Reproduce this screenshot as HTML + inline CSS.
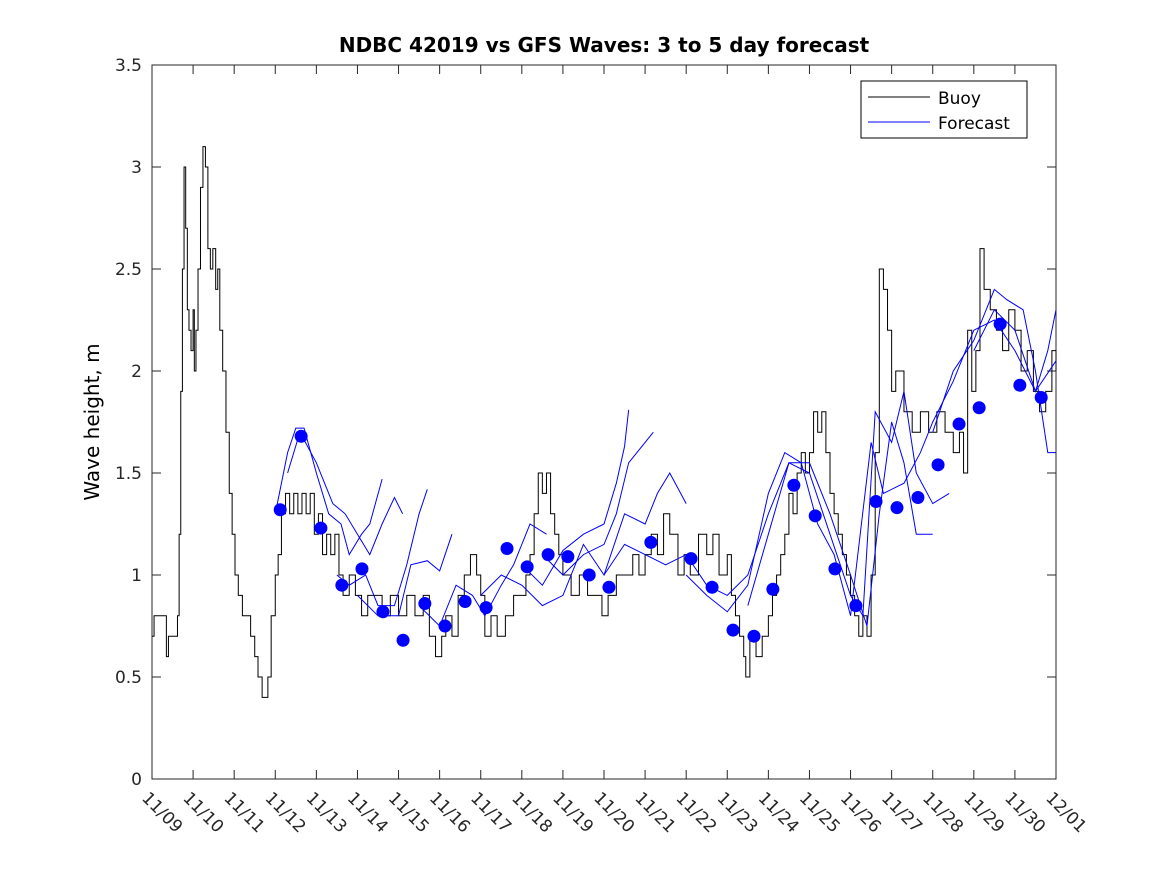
<!DOCTYPE html>
<html><head><meta charset="utf-8"><style>body{margin:0;background:#fff}svg{display:block;font-family:"DejaVu Sans","Liberation Sans",sans-serif}</style></head>
<body>
<svg id="chart" width="1167" height="875" viewBox="0 0 1167 875">
<rect width="1167" height="875" fill="#fff"/>
<text x="604" y="52" text-anchor="middle" font-size="20" font-weight="bold">NDBC 42019 vs GFS Waves: 3 to 5 day forecast</text>
<text transform="translate(99,422) rotate(-90)" text-anchor="middle" font-size="20">Wave height, m</text>
<g id="plot"></g>
<g>
<rect x="861" y="81" width="166" height="57" fill="#fff" stroke="#000" stroke-width="1"/>
<line x1="868" y1="97" x2="930" y2="97" stroke="#000"/>
<text x="938" y="104" font-size="17">Buoy</text>
<line x1="868" y1="122" x2="930" y2="122" stroke="#0000ff"/>
<text x="938" y="129" font-size="17">Forecast</text>
</g>
</svg>
<script>
const xTickLabels=["11/09","11/10","11/11","11/12","11/13","11/14","11/15","11/16","11/17","11/18","11/19","11/20","11/21","11/22","11/23","11/24","11/25","11/26","11/27","11/28","11/29","11/30","12/01"];
const yTicks=[0,0.5,1,1.5,2,2.5,3,3.5];
const buoySeries=[
[0,0.7],[0.05,0.8],[0.3,0.8],[0.35,0.6],[0.4,0.7],[0.6,0.7],[0.62,0.8],[0.66,1.2],[0.7,1.9],[0.74,2.5],[0.78,3.0],[0.82,2.7],[0.86,2.3],[0.9,2.2],[0.95,2.1],[1.0,2.3],[1.03,2.0],[1.07,2.2],[1.12,2.5],[1.18,2.9],[1.24,3.1],[1.3,3.0],[1.36,2.6],[1.42,2.5],[1.48,2.6],[1.55,2.4],[1.6,2.5],[1.65,2.2],[1.72,2.0],[1.8,1.7],[1.88,1.4],[1.95,1.2],[2.02,1.0],[2.1,0.9],[2.2,0.8],[2.4,0.7],[2.5,0.6],[2.58,0.5],[2.68,0.4],[2.82,0.5],[2.9,0.8],[3.0,1.0],[3.07,1.1],[3.15,1.3],[3.25,1.4],[3.35,1.3],[3.45,1.4],[3.55,1.3],[3.65,1.4],[3.75,1.3],[3.85,1.4],[3.95,1.2],[4.05,1.3],[4.15,1.1],[4.25,1.2],[4.35,1.1],[4.45,1.2],[4.55,1.0],[4.65,0.9],[4.8,1.0],[4.95,0.9],[5.1,0.8],[5.25,0.9],[5.4,0.9],[5.6,0.8],[5.8,0.9],[6.0,0.8],[6.2,0.9],[6.4,0.8],[6.6,0.9],[6.75,0.7],[6.9,0.6],[7.05,0.7],[7.15,0.8],[7.3,0.7],[7.45,0.9],[7.6,1.0],[7.75,1.1],[7.9,1.0],[8.0,0.9],[8.1,0.7],[8.25,0.8],[8.4,0.7],[8.6,0.8],[8.8,0.9],[9.0,0.9],[9.1,1.0],[9.2,1.1],[9.3,1.3],[9.4,1.5],[9.5,1.4],[9.6,1.5],[9.7,1.3],[9.8,1.2],[9.9,1.1],[10.0,1.0],[10.2,0.9],[10.4,1.0],[10.6,0.9],[10.8,0.9],[10.95,0.8],[11.1,0.9],[11.3,1.0],[11.5,1.0],[11.7,1.1],[11.85,1.0],[12.0,1.1],[12.15,1.2],[12.3,1.1],[12.45,1.3],[12.6,1.2],[12.8,1.0],[12.95,1.1],[13.1,1.0],[13.3,1.2],[13.5,1.1],[13.65,1.2],[13.8,1.0],[14.0,1.1],[14.1,0.9],[14.2,0.8],[14.3,0.7],[14.4,0.6],[14.45,0.5],[14.55,0.7],[14.7,0.6],[14.85,0.7],[15.0,0.8],[15.1,0.9],[15.2,1.0],[15.3,1.1],[15.4,1.2],[15.5,1.4],[15.6,1.3],[15.7,1.5],[15.8,1.6],[15.9,1.5],[16.0,1.6],[16.1,1.8],[16.2,1.7],[16.3,1.8],[16.4,1.6],[16.5,1.4],[16.6,1.3],[16.7,1.2],[16.8,1.1],[16.9,1.0],[17.0,0.9],[17.1,0.8],[17.2,0.7],[17.3,0.8],[17.4,0.7],[17.5,1.0],[17.6,1.6],[17.7,2.5],[17.8,2.4],[17.9,2.2],[18.0,1.9],[18.1,2.0],[18.3,1.8],[18.5,1.7],[18.7,1.8],[18.9,1.7],[19.1,1.8],[19.3,1.7],[19.5,1.6],[19.65,1.7],[19.75,1.5],[19.85,2.2],[19.95,1.9],[20.05,2.1],[20.15,2.6],[20.25,2.4],[20.4,2.3],[20.55,2.2],[20.7,2.1],[20.85,2.3],[21.0,2.2],[21.15,2.0],[21.3,2.1],[21.45,1.9],[21.6,1.8],[21.75,1.9],[21.9,2.1],[22.0,2.0]];
const buoyDays=buoySeries.map(p=>p[0]);
const buoyVals=buoySeries.map(p=>p[1]);
const dotDays=[3.12,3.63,4.11,4.62,5.11,5.62,6.11,6.64,7.13,7.62,8.13,8.64,9.13,9.64,10.12,10.64,11.12,12.14,13.12,13.63,14.14,14.65,15.11,15.62,16.14,16.62,17.13,17.62,18.13,18.64,19.13,19.64,20.13,20.64,21.12,21.64];
const dotVals=[1.32,1.68,1.23,0.95,1.03,0.82,0.68,0.86,0.75,0.87,0.84,1.13,1.04,1.10,1.09,1.00,0.94,1.16,1.08,0.94,0.73,0.70,0.93,1.44,1.29,1.03,0.85,1.36,1.33,1.38,1.54,1.74,1.82,2.23,1.93,1.87];
const fc1Days=[3.0,3.3,3.5,3.7,4.0,4.3,4.6,4.8,5.1,5.3,5.6];
const fc1Vals=[1.3,1.6,1.72,1.72,1.5,1.3,1.25,1.1,1.2,1.25,1.47];
const fc2Days=[3.3,3.6,4.0,4.4,4.7,5.0,5.3,5.6,5.9,6.1];
const fc2Vals=[1.5,1.7,1.55,1.35,1.3,1.2,1.1,1.25,1.38,1.3];
const fc3Days=[4.5,4.8,5.2,5.5,5.9,6.2,6.5,6.7];
const fc3Vals=[1.0,0.95,1.0,0.85,0.85,1.05,1.3,1.42];
const fc4Days=[5.0,5.5,6.0,6.3,6.7,7.0,7.3];
const fc4Vals=[0.9,0.8,0.8,1.05,1.07,1.02,1.2];
const fc5Days=[6.5,7.0,7.4,7.8,8.1,8.5,8.8,9.2,9.6];
const fc5Vals=[0.85,0.75,0.95,0.9,0.8,0.95,1.05,1.25,1.2];
const fc6Days=[9.0,9.5,10.0,10.5,11.0,11.3,11.5,11.6];
const fc6Vals=[1.05,0.95,1.12,1.2,1.25,1.45,1.63,1.81];
const fc7Days=[9.5,10.0,10.5,11.0,11.3,11.6,12.0,12.2];
const fc7Vals=[1.1,1.0,1.1,1.15,1.3,1.55,1.65,1.7];
const fc8Days=[8.0,8.5,9.0,9.5,10.0,10.5,11.0,11.5,12.0,12.3,12.6,13.0];
const fc8Vals=[0.9,1.0,0.95,0.85,0.9,1.15,1.0,1.3,1.25,1.4,1.5,1.35];
const fc9Days=[11.0,11.5,12.0,12.5,13.0,13.5,14.0,14.5,15.0,15.5,16.0,16.5,17.0,17.4,17.7,18.0,18.3,18.6,19.0];
const fc9Vals=[1.0,1.15,1.1,1.05,1.1,0.95,0.9,1.0,1.3,1.55,1.55,1.3,1.0,0.75,1.3,1.75,1.55,1.2,1.2];
const fc10Days=[13.0,13.5,14.0,14.5,15.0,15.4,15.8,16.2,16.6,17.0,17.5,17.8,18.3,18.7,19.0,19.5,20.0,20.5,21.0,21.5,22.0];
const fc10Vals=[1.0,0.9,0.82,0.95,1.4,1.6,1.55,1.25,1.1,0.8,1.65,1.4,1.45,1.6,1.75,1.95,2.2,2.25,2.1,1.9,2.05];
const fc11Days=[14.5,15.0,15.5,16.0,16.5,17.0,17.3,17.6,18.0,18.3,18.6,19.0,19.4];
const fc11Vals=[0.85,1.2,1.55,1.5,1.2,0.9,0.8,1.8,1.65,1.9,1.5,1.35,1.4];
const fc12Days=[19.0,19.5,20.0,20.5,20.8,21.2,21.5,21.8,22.0];
const fc12Vals=[1.7,2.0,2.15,2.4,2.35,2.3,2.0,1.6,1.6];
const fc13Days=[20.0,20.5,21.0,21.5,21.8,22.0];
const fc13Vals=[2.1,2.3,2.2,1.9,2.1,2.3];

const X0=152,X1=1056,Y0=779,Y1=65;
const xs=d=>X0+(X1-X0)*d/22;
const ys=v=>Y0-(Y0-Y1)*v/3.5;
const NS="http://www.w3.org/2000/svg";
const plot=document.getElementById('plot');
function mk(t,a,p){const e=document.createElementNS(NS,t);for(const k in a)e.setAttribute(k,a[k]);(p||plot).appendChild(e);return e;}
const frame=mk('rect',{x:X0,y:Y1,width:X1-X0,height:Y0-Y1,fill:'none',stroke:'#262626','stroke-width':1});


xTickLabels.forEach((l,i)=>{const x=xs(i);
 mk('line',{x1:x,y1:Y0,x2:x,y2:Y0-9,stroke:'#262626'});
 mk('line',{x1:x,y1:Y1,x2:x,y2:Y1+9,stroke:'#262626'});
 const t=mk('text',{x:0,y:0,'font-size':17,fill:'#262626',transform:`translate(${x-11},${Y0+20}) rotate(45)`});
 t.textContent=l;
 
 
});
yTicks.forEach(v=>{const y=ys(v);
 mk('line',{x1:X0,y1:y,x2:X0+9,y2:y,stroke:'#262626'});
 mk('line',{x1:X1,y1:y,x2:X1-9,y2:y,stroke:'#262626'});
 const t=mk('text',{x:X0-10,y:y+6,'font-size':17,'text-anchor':'end',fill:'#262626'});
 t.textContent=String(v);
 
 
});
function line(days,vals,color,name,step){let pts=[];
 days.forEach((d,i)=>{if(step&&i>0)pts.push(xs(d)+','+ys(vals[i-1]));pts.push(xs(d)+','+ys(vals[i]));});
 const p=mk('polyline',{points:pts.join(' '),fill:'none',stroke:color,'stroke-width':1});
 
 }
line(buoyDays,buoyVals,'#000','buoy-line',true);
const fcs=[[fc1Days,fc1Vals],[fc2Days,fc2Vals],[fc3Days,fc3Vals],[fc4Days,fc4Vals],[fc5Days,fc5Vals],[fc6Days,fc6Vals],[fc7Days,fc7Vals],[fc8Days,fc8Vals],[fc9Days,fc9Vals],[fc10Days,fc10Vals],[fc11Days,fc11Vals],[fc12Days,fc12Vals],[fc13Days,fc13Vals]];
fcs.forEach(f=>line(f[0],f[1],'#0000ff','forecast-line',false));
dotDays.forEach((d,i)=>{const c=mk('circle',{cx:xs(d),cy:ys(dotVals[i]),r:6.5,fill:'#0000ff'});
 
 });
</script>
</body></html>
